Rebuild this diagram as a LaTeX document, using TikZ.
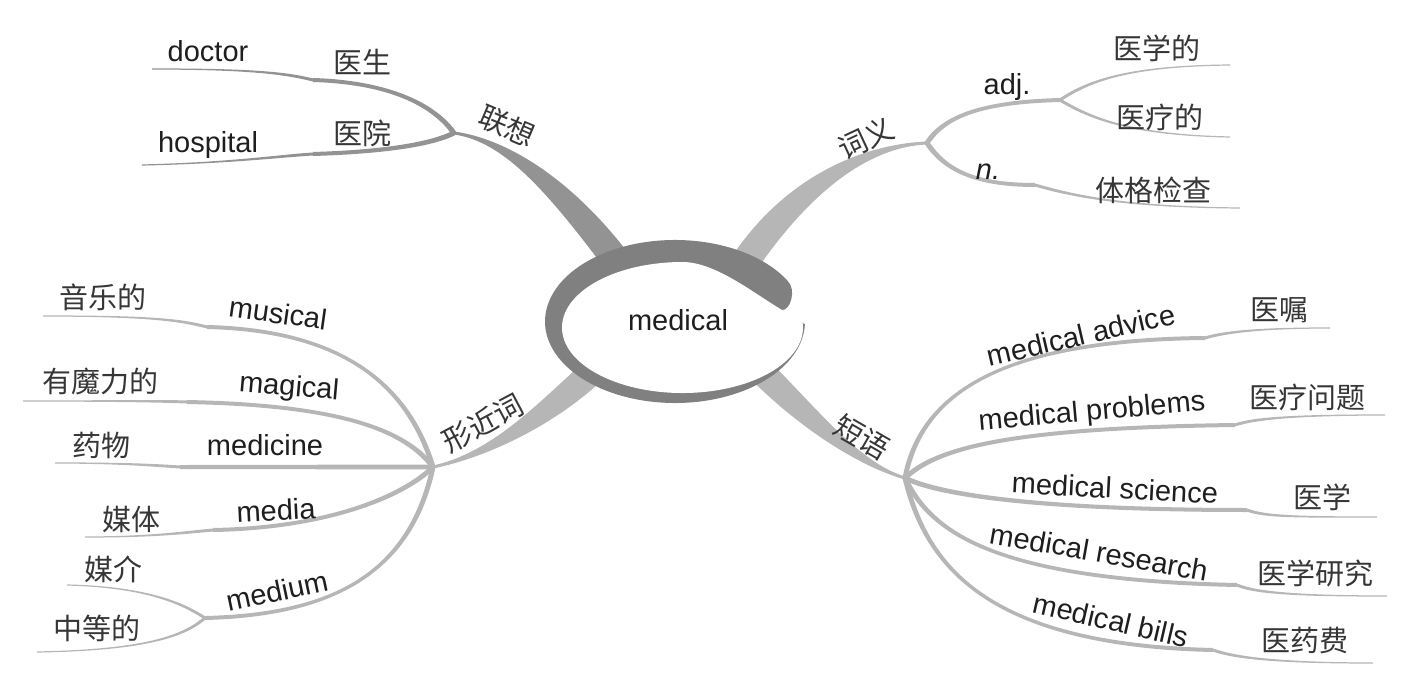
\documentclass[tikz,border=0pt]{standalone}
\usepackage{fontspec}
\setmainfont{Liberation Sans}
\newfontfamily\cjk{Noto Sans CJK SC}
\usetikzlibrary{calc}
\definecolor{brL}{HTML}{939393}
\definecolor{brO}{HTML}{B6B6B6}
\definecolor{ringc}{HTML}{808080}
\definecolor{textc}{HTML}{1E1E1E}
\definecolor{zhc}{HTML}{363636}
% tapered ribbon along a cubic curve: [style]{P0}{C1}{C2}{P3}{half width at P0}{half width at P3}
\newcommand{\myribbon}[7][]{%
  \fill[#1] ($(#2)!#6!90:(#3)$) .. controls ($(#3)!#6!-90:(#2)$) and ($(#4)!#7!90:(#5)$) .. ($(#5)!#7!-90:(#4)$)
    -- ($(#5)!#7!90:(#4)$) .. controls ($(#4)!#7!-90:(#5)$) and ($(#3)!#6!90:(#2)$) .. ($(#2)!#6!-90:(#3)$) -- cycle;}
\begin{document}
\begin{tikzpicture}[x=1pt,y=-1pt,
  en/.style={font=\fontsize{29}{31}\selectfont, text=textc, inner sep=0pt},
  zh/.style={font=\cjk\fontsize{29}{31}\selectfont, text=zhc, inner sep=0pt}]
\useasboundingbox (0,0) rectangle (1425,687);
% ---- coordinates
\coordinate (jL) at (454,133);
\coordinate (jR) at (927,143);
\coordinate (jF) at (433,467);
\coordinate (jD) at (905,478);
\coordinate (rL) at (622,268);
\coordinate (rR) at (745,262);
\coordinate (rF) at (592,372);
\coordinate (rD) at (760,370);
\coordinate (sL1) at (313,80);  \coordinate (eL1) at (152,69);
\coordinate (sL2) at (313,154); \coordinate (eL2) at (142,165);
\coordinate (sR1) at (1060,100); \coordinate (eR1) at (1230,65); \coordinate (eR2) at (1230,137);
\coordinate (sR2) at (1035,185); \coordinate (eR3) at (1240,208);
\coordinate (sF1) at (207,327); \coordinate (eF1) at (43,316);
\coordinate (sF2) at (187,402); \coordinate (eF2) at (23,401);
\coordinate (sF3) at (180,467); \coordinate (eF3) at (55,463);
\coordinate (sF4) at (213,530); \coordinate (eF4) at (85,537);
\coordinate (sF5) at (205,618); \coordinate (eF5) at (67,585); \coordinate (eF6) at (37,652);
\coordinate (sD1) at (1205,338); \coordinate (eD1) at (1330,328);
\coordinate (sD2) at (1235,425); \coordinate (eD2) at (1385,415);
\coordinate (sD3) at (1247,510); \coordinate (eD3) at (1377,517);
\coordinate (sD4) at (1237,585); \coordinate (eD4) at (1387,596);
\coordinate (sD5) at (1213,650); \coordinate (eD5) at (1373,663);
% ---- main stems
\myribbon[brL]{jL}{505,140}{560,185}{rL}{1.5pt}{14pt}
\myribbon[brO]{jR}{875,145}{805,175}{rR}{1.5pt}{14pt}
\myribbon[brO]{jF}{490,455}{545,415}{rF}{1.5pt}{13pt}
\myribbon[brO]{jD}{860,465}{810,420}{rD}{1.5pt}{13pt}
% ---- 联想
\myribbon[brL]{jL}{430,100}{380,82}{sL1}{2.5pt}{2pt}
\myribbon[brL]{sL1}{285,73}{250,69}{eL1}{1.5pt}{0.6pt}
\myribbon[brL]{jL}{430,145}{380,152}{sL2}{2.5pt}{2pt}
\myribbon[brL]{sL2}{280,156}{230,163}{eL2}{1.5pt}{0.6pt}
% ---- 词义
\myribbon[brO]{jR}{945,115}{985,102}{sR1}{2.5pt}{2pt}
\myribbon[brO]{sR1}{1090,80}{1130,66}{eR1}{1.5pt}{0.6pt}
\myribbon[brO]{sR1}{1090,118}{1130,135}{eR2}{1.5pt}{0.6pt}
\myribbon[brO]{jR}{945,170}{975,185}{sR2}{2.5pt}{2pt}
\myribbon[brO]{sR2}{1070,195}{1120,207}{eR3}{1.5pt}{0.6pt}
% ---- 形近词
\myribbon[brO]{jF}{405,375}{330,330}{sF1}{2.5pt}{2pt}
\myribbon[brO]{sF1}{180,320}{150,316}{eF1}{1.5pt}{0.6pt}
\myribbon[brO]{jF}{405,430}{340,405}{sF2}{2.5pt}{2pt}
\myribbon[brO]{sF2}{160,401}{120,401}{eF2}{1.5pt}{0.6pt}
\myribbon[brO]{jF}{380,467}{260,467}{sF3}{2.5pt}{2pt}
\myribbon[brO]{sF3}{150,465}{120,463}{eF3}{1.5pt}{0.6pt}
\myribbon[brO]{jF}{405,495}{330,528}{sF4}{2.5pt}{2pt}
\myribbon[brO]{sF4}{180,533}{150,537}{eF4}{1.5pt}{0.6pt}
\myribbon[brO]{jF}{410,575}{330,615}{sF5}{2.5pt}{2pt}
\myribbon[brO]{sF5}{185,605}{150,587}{eF5}{1.5pt}{0.6pt}
\myribbon[brO]{sF5}{185,635}{150,650}{eF6}{1.5pt}{0.6pt}
% ---- 短语
\myribbon[brO]{jD}{920,400}{990,340}{sD1}{2.5pt}{2pt}
\myribbon[brO]{sD1}{1225,332}{1260,328}{eD1}{1.5pt}{0.6pt}
\myribbon[brO]{jD}{935,450}{1000,428}{sD2}{2.5pt}{2pt}
\myribbon[brO]{sD2}{1255,418}{1300,415}{eD2}{1.5pt}{0.6pt}
\myribbon[brO]{jD}{940,495}{1040,510}{sD3}{2.5pt}{2pt}
\myribbon[brO]{sD3}{1265,517}{1300,517}{eD3}{1.5pt}{0.6pt}
\myribbon[brO]{jD}{930,530}{990,580}{sD4}{2.5pt}{2pt}
\myribbon[brO]{sD4}{1255,593}{1300,596}{eD4}{1.5pt}{0.6pt}
\myribbon[brO]{jD}{925,560}{980,645}{sD5}{2.5pt}{2pt}
\myribbon[brO]{sD5}{1235,658}{1280,663}{eD5}{1.5pt}{0.6pt}
% ---- central swirl: grey outer body with a rounded end, white inside
\coordinate (capA) at (787.6,280.75);
\coordinate (capB) at (782,310);
\fill[ringc] (capA) arc[start angle=30, end angle=358, x radius=130pt, y radius=81.5pt]
   -- (capB) .. controls (790,311) and (797,290) .. (capA) -- cycle;
\fill[white] (801.8,318.4) arc[start angle=8, end angle=-270, x radius=120.5pt, y radius=65.5pt]
   .. controls (715,262) and (752,292) .. (capB) -- cycle;
\node[en] (center) at (678,320) {medical};
% ---- labels
\node[zh, rotate=-23] (lx) at (507,126) {联想};
\node[zh] (ys) at (362,62) {医生};
\node[en] (doc) at (208,51) {doctor};
\node[zh] (yy) at (362,133) {医院};
\node[en] (hos) at (208,145) {hospital};
\node[zh, rotate=25] (cy) at (866,138) {词义};
\node[en] (adj) at (1007,87) {adj.};
\node[zh] (yxd) at (1157,48) {医学的};
\node[zh] (yld) at (1160,117) {医疗的};
\node[en, font=\fontsize{29}{31}\selectfont\itshape] (nn) at (988,172) {n.};
\node[zh] (tgjc) at (1153,190) {体格检查};
\node[zh, rotate=28] (xjc) at (483,423) {形近词};
\node[zh] (yld2) at (103,297) {音乐的};
\node[en, rotate=-8] (mus) at (278,313) {musical};
\node[zh] (ymld) at (100,381) {有魔力的};
\node[en, rotate=-5] (mag) at (289,388) {magical};
\node[zh] (yw) at (101,445) {药物};
\node[en] (medi) at (265,445) {medicine};
\node[zh] (mt) at (131,519) {媒体};
\node[en, rotate=3] (media) at (276,510) {media};
\node[zh] (mj) at (113,569) {媒介};
\node[en, rotate=12] (medium) at (277,591) {medium};
\node[zh] (zdd) at (97,628) {中等的};
\node[zh, rotate=-30] (dy) at (862,437) {短语};
\node[en, rotate=13] (ma) at (1081,335) {medical advice};
\node[zh] (yz) at (1279,310) {医嘱};
\node[en, rotate=5] (mp) at (1092,413) {medical problems};
\node[zh] (ylwt) at (1307,397) {医疗问题};
\node[en, rotate=-3] (ms) at (1115,488) {medical science};
\node[zh] (yx) at (1322,497) {医学};
\node[en, rotate=-10] (mr) at (1099,552) {medical research};
\node[zh] (yxyj) at (1315,573) {医学研究};
\node[en, rotate=-13] (mb) at (1111,620) {medical bills};
\node[zh] (yyf) at (1305,640) {医药费};
\end{tikzpicture}
\end{document}
